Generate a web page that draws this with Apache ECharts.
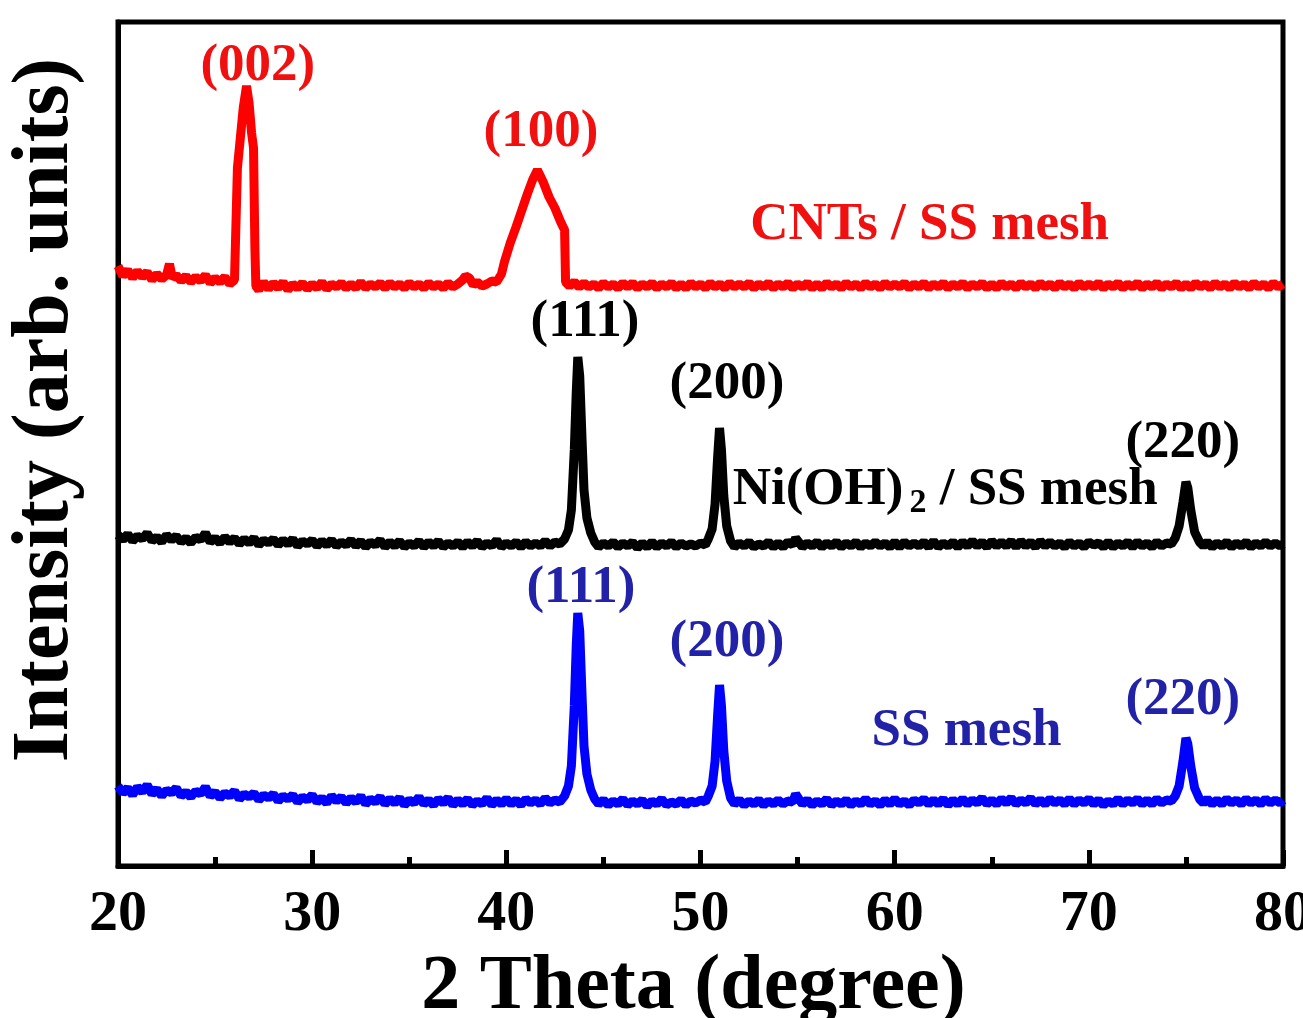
<!DOCTYPE html>
<html><head><meta charset="utf-8">
<script src="https://cdn.jsdelivr.net/npm/echarts@6/dist/echarts.min.js"></script>
<style>html,body{margin:0;padding:0;background:#fff}#c{width:1303px;height:1018px}</style>
</head><body><div id="c"></div>
<script>
// 2θ (degree), raw intensity (a.u.) pairs
const ssMesh = [[20.00,80],[20.25,73],[20.50,78],[20.75,71],[21.00,79],[21.25,74],[21.50,81],[21.75,72],[22.00,77],[22.25,70],[22.50,76],[22.75,73],[23.00,78],[23.25,70],[23.50,74],[23.75,69],[24.00,75],[24.25,72],[24.50,79],[24.75,70],[25.00,74],[25.25,68],[25.50,73],[25.75,70],[26.00,75],[26.25,67],[26.50,72],[26.75,69],[27.00,73],[27.25,66],[27.50,71],[27.75,68],[28.00,72],[28.25,65],[28.50,70],[28.75,67],[29.00,71],[29.25,64],[29.50,69],[29.75,66],[30.00,71],[30.25,64],[30.50,68],[30.75,63],[31.00,70],[31.25,65],[31.50,69],[31.75,63],[32.00,68],[32.25,64],[32.50,70],[32.75,62],[33.00,67],[33.25,64],[33.50,69],[33.75,62],[34.00,67],[34.25,63],[34.50,68],[34.75,61],[35.00,66],[35.25,63],[35.50,69],[35.75,62],[36.00,66],[36.25,61],[36.50,67],[36.75,63],[37.00,68],[37.25,61],[37.50,66],[37.75,62],[38.00,67],[38.25,61],[38.50,65],[38.75,62],[39.00,68],[39.25,61],[39.50,66],[39.75,62],[40.00,67],[40.25,62],[40.50,66],[40.75,61],[41.00,67],[41.25,63],[41.50,66],[41.75,62],[42.00,68],[42.25,63],[42.50,66],[42.75,64],[43.00,70],[43.2,80],[43.35,100],[43.5,160],[43.6,220],[43.68,253],[43.78,235],[43.9,170],[44.0,120],[44.15,92],[44.35,76],[44.55,67],[44.75,62],[45.00,66],[45.25,61],[45.50,65],[45.75,62],[46.00,67],[46.25,61],[46.50,65],[46.75,62],[47.00,66],[47.25,60],[47.50,65],[47.75,62],[48.00,67],[48.25,61],[48.50,64],[48.75,62],[49.00,66],[49.25,61],[49.50,65],[49.75,63],[50.00,66],[50.25,64],[50.4,70],[50.6,80],[50.75,105],[50.88,150],[50.98,181],[51.08,160],[51.2,115],[51.35,85],[51.55,68],[51.75,62],[52.00,66],[52.25,61],[52.50,65],[52.75,62],[53.00,66],[53.25,61],[53.50,65],[53.75,62],[54.00,66],[54.25,62],[54.50,65],[54.75,64],[54.90,72],[55.10,66],[55.25,62],[55.50,66],[55.75,61],[56.00,65],[56.25,62],[56.50,67],[56.75,61],[57.00,65],[57.25,62],[57.50,66],[57.75,61],[58.00,65],[58.25,62],[58.50,67],[58.75,62],[59.00,65],[59.25,61],[59.50,66],[59.75,62],[60.00,67],[60.25,62],[60.50,65],[60.75,61],[61.00,66],[61.25,63],[61.50,67],[61.75,62],[62.00,66],[62.25,62],[62.50,67],[62.75,61],[63.00,66],[63.25,62],[63.50,67],[63.75,62],[64.00,66],[64.25,63],[64.50,68],[64.75,62],[65.00,66],[65.25,62],[65.50,67],[65.75,63],[66.00,68],[66.25,62],[66.50,66],[66.75,63],[67.00,68],[67.25,62],[67.50,66],[67.75,62],[68.00,67],[68.25,63],[68.50,66],[68.75,62],[69.00,67],[69.25,62],[69.50,66],[69.75,63],[70.00,67],[70.25,62],[70.50,66],[70.75,61],[71.00,65],[71.25,62],[71.50,67],[71.75,62],[72.00,66],[72.25,63],[72.50,67],[72.75,62],[73.00,66],[73.25,62],[73.50,67],[73.75,63],[74.00,66],[74.25,65],[74.45,70],[74.65,80],[74.85,105],[75.0,128],[75.1,122],[75.25,100],[75.45,78],[75.7,67],[75.90,63],[76.10,67],[76.35,62],[76.60,66],[76.85,62],[77.10,67],[77.35,63],[77.60,66],[77.85,62],[78.10,67],[78.35,63],[78.60,66],[78.85,62],[79.10,67],[79.35,63],[79.60,66],[79.85,63],[80.00,66]];
const niOH2 = [[20.00,73],[20.25,68],[20.50,74],[20.75,67],[21.00,72],[21.25,69],[21.50,75],[21.75,67],[22.00,71],[22.25,66],[22.50,73],[22.75,68],[23.00,72],[23.25,66],[23.50,70],[23.75,65],[24.00,71],[24.25,68],[24.50,75],[24.75,66],[25.00,70],[25.25,65],[25.50,71],[25.75,66],[26.00,70],[26.25,64],[26.50,69],[26.75,65],[27.00,70],[27.25,63],[27.50,68],[27.75,65],[28.00,69],[28.25,63],[28.50,68],[28.75,64],[29.00,69],[29.25,62],[29.50,67],[29.75,64],[30.00,68],[30.25,62],[30.50,67],[30.75,63],[31.00,68],[31.25,62],[31.50,66],[31.75,63],[32.00,68],[32.25,62],[32.50,67],[32.75,61],[33.00,66],[33.25,63],[33.50,68],[33.75,61],[34.00,66],[34.25,62],[34.50,67],[34.75,61],[35.00,65],[35.25,62],[35.50,67],[35.75,61],[36.00,66],[36.25,62],[36.50,67],[36.75,61],[37.00,65],[37.25,62],[37.50,66],[37.75,61],[38.00,66],[38.25,62],[38.50,67],[38.75,61],[39.00,65],[39.25,62],[39.50,68],[39.75,61],[40.00,65],[40.25,62],[40.50,66],[40.75,61],[41.00,66],[41.25,62],[41.50,65],[41.75,62],[42.00,67],[42.25,62],[42.50,66],[42.75,64],[43.00,69],[43.2,78],[43.35,98],[43.5,158],[43.6,215],[43.68,251],[43.78,232],[43.9,168],[44.0,118],[44.15,90],[44.35,75],[44.55,66],[44.75,61],[45.00,65],[45.25,62],[45.50,66],[45.75,61],[46.00,65],[46.25,62],[46.50,66],[46.75,60],[47.00,65],[47.25,61],[47.50,66],[47.75,61],[48.00,65],[48.25,62],[48.50,66],[48.75,61],[49.00,65],[49.25,62],[49.50,64],[49.75,62],[50.00,65],[50.25,63],[50.4,69],[50.6,79],[50.75,104],[50.88,150],[50.98,180],[51.08,158],[51.2,112],[51.35,82],[51.55,67],[51.75,61],[52.00,65],[52.25,62],[52.50,66],[52.75,61],[53.00,64],[53.25,62],[53.50,66],[53.75,61],[54.00,65],[54.25,61],[54.50,66],[54.75,63],[54.90,70],[55.10,65],[55.25,61],[55.50,65],[55.75,62],[56.00,66],[56.25,61],[56.50,65],[56.75,62],[57.00,66],[57.25,61],[57.50,65],[57.75,62],[58.00,66],[58.25,61],[58.50,65],[58.75,62],[59.00,66],[59.25,62],[59.50,65],[59.75,61],[60.00,66],[60.25,61],[60.50,66],[60.75,62],[61.00,65],[61.25,62],[61.50,66],[61.75,61],[62.00,67],[62.25,61],[62.50,65],[62.75,62],[63.00,66],[63.25,61],[63.50,66],[63.75,62],[64.00,67],[64.25,62],[64.50,66],[64.75,61],[65.00,67],[65.25,62],[65.50,66],[65.75,62],[66.00,67],[66.25,61],[66.50,67],[66.75,62],[67.00,66],[67.25,61],[67.50,67],[67.75,62],[68.00,66],[68.25,62],[68.50,65],[68.75,61],[69.00,66],[69.25,62],[69.50,65],[69.75,61],[70.00,66],[70.25,63],[70.50,65],[70.75,61],[71.00,66],[71.25,61],[71.50,65],[71.75,62],[72.00,66],[72.25,61],[72.50,66],[72.75,62],[73.00,65],[73.25,61],[73.50,66],[73.75,62],[74.00,65],[74.25,64],[74.45,70],[74.65,82],[74.85,106],[75.0,126],[75.1,120],[75.25,98],[75.45,76],[75.7,66],[75.90,62],[76.10,66],[76.35,61],[76.60,65],[76.85,62],[77.10,66],[77.35,61],[77.60,65],[77.85,62],[78.10,66],[78.35,61],[78.60,65],[78.85,62],[79.10,66],[79.35,62],[79.60,65],[79.85,62],[80.00,64]];
const cnts = [[20.00,82],[20.25,72],[20.50,78],[20.75,70],[21.00,77],[21.25,71],[21.50,76],[21.75,68],[22.00,74],[22.25,69],[22.50,73],[22.65,84],[22.80,70],[23.00,73],[23.25,67],[23.50,72],[23.75,66],[24.00,71],[24.25,67],[24.50,73],[24.75,65],[25.00,70],[25.25,66],[25.50,71],[25.75,64],[26.00,68],[26.1,70],[26.15,180],[26.3,210],[26.45,240],[26.62,262],[26.75,245],[26.88,215],[26.98,200],[27.05,100],[27.1,62],[27.25,58],[27.50,66],[27.75,59],[28.00,65],[28.25,60],[28.50,66],[28.75,58],[29.00,64],[29.25,60],[29.50,65],[29.75,59],[30.00,64],[30.25,60],[30.50,66],[30.75,59],[31.00,64],[31.25,61],[31.50,65],[31.75,60],[32.00,64],[32.25,60],[32.50,66],[32.75,60],[33.00,64],[33.25,61],[33.50,65],[33.75,60],[34.00,65],[34.25,61],[34.50,64],[34.75,60],[35.00,65],[35.25,61],[35.50,64],[35.75,60],[36.00,65],[36.25,61],[36.50,64],[36.75,60],[37.00,65],[37.25,61],[37.50,64],[37.75,68],[37.90,72],[38.10,70],[38.30,63],[38.50,66],[38.75,62],[39.00,64],[39.25,67],[39.50,66],[39.75,74],[39.9,86],[40.2,105],[40.5,121],[40.8,138],[41.1,155],[41.35,168],[41.6,178],[41.9,166],[42.2,151],[42.5,140],[42.8,126],[43.0,118],[43.05,66],[43.25,62],[43.50,66],[43.75,61],[44.00,65],[44.25,61],[44.50,64],[44.75,60],[45.00,65],[45.25,61],[45.50,64],[45.75,60],[46.00,65],[46.25,61],[46.50,65],[46.75,60],[47.00,64],[47.25,61],[47.50,65],[47.75,60],[48.00,64],[48.25,61],[48.50,65],[48.75,60],[49.00,64],[49.25,60],[49.50,65],[49.75,61],[50.00,64],[50.25,60],[50.50,65],[50.75,61],[51.00,64],[51.25,60],[51.50,65],[51.75,61],[52.00,64],[52.25,61],[52.50,65],[52.75,60],[53.00,64],[53.25,61],[53.50,65],[53.75,60],[54.00,64],[54.25,61],[54.50,65],[54.75,60],[55.00,64],[55.25,61],[55.50,65],[55.75,60],[56.00,64],[56.25,60],[56.50,65],[56.75,61],[57.00,64],[57.25,60],[57.50,65],[57.75,61],[58.00,64],[58.25,60],[58.50,65],[58.75,61],[59.00,64],[59.25,60],[59.50,65],[59.75,61],[60.00,64],[60.25,61],[60.50,65],[60.75,60],[61.00,64],[61.25,61],[61.50,65],[61.75,60],[62.00,64],[62.25,61],[62.50,65],[62.75,60],[63.00,64],[63.25,61],[63.50,65],[63.75,60],[64.00,64],[64.25,61],[64.50,65],[64.75,60],[65.00,64],[65.25,60],[65.50,65],[65.75,61],[66.00,64],[66.25,60],[66.50,65],[66.75,61],[67.00,64],[67.25,60],[67.50,65],[67.75,61],[68.00,64],[68.25,60],[68.50,65],[68.75,61],[69.00,64],[69.25,60],[69.50,65],[69.75,61],[70.00,64],[70.25,61],[70.50,65],[70.75,60],[71.00,64],[71.25,61],[71.50,65],[71.75,60],[72.00,64],[72.25,61],[72.50,65],[72.75,60],[73.00,64],[73.25,61],[73.50,65],[73.75,60],[74.00,64],[74.25,61],[74.50,65],[74.75,60],[75.00,64],[75.25,60],[75.50,65],[75.75,61],[76.00,64],[76.25,60],[76.50,65],[76.75,61],[77.00,64],[77.25,60],[77.50,65],[77.75,61],[78.00,64],[78.25,60],[78.50,65],[78.75,61],[79.00,64],[79.25,60],[79.50,65],[79.75,61],[80.00,64]];
// vertical stacking offsets (a.u.)
const offsets = {ss: 0, ni: 258, cnt: 518};
const seriesNames = ['SS mesh', 'Ni(OH)2 / SS mesh', 'CNTs / SS mesh'];
const xTicks = [20, 30, 40, 50, 60, 70, 80];
// peak labels: [text, 2θ, displayed intensity]
const cntLabels = [['(002)', 27.2, 800], ['(100)', 41.78, 734]];
const niLabels = [['(111)', 44.05, 544], ['(200)', 51.36, 482], ['(220)', 74.84, 423]];
const ssLabels = [['(111)', 43.84, 278], ['(200)', 51.36, 224], ['(220)', 74.84, 166]];
const nameLabels = [['{a|CNTs / SS mesh}', 61.8, 641], ['{a|Ni(OH)}{s|2}{a| / SS mesh}', 62.6, 376], ['{a|SS mesh}', 63.7, 135]];

const FONT = 'Liberation Serif';
const shift = (arr, off) => arr.map(p => [p[0], p[1] + off]);
function mp(labels, color) {
  return {
    symbol: 'circle', symbolSize: 0, silent: true,
    label: {show: true, position: 'inside', color: color, fontFamily: FONT, fontWeight: 'bold', fontSize: 53,
      rich: {a: {fontFamily: FONT, fontWeight: 'bold', fontSize: 53, color: color, lineHeight: 60},
             s: {fontFamily: FONT, fontWeight: 'bold', fontSize: 34, color: color, verticalAlign: 'bottom', lineHeight: 34, padding: [0, 0, 0, 6]}}},
    data: labels.map(l => ({coord: [l[1], l[2]], value: l[0], label: {formatter: l[0]}}))
  };
}
const chart = echarts.init(document.getElementById('c'));
chart.setOption({
  animation: false,
  backgroundColor: '#fff',
  grid: {left: 118, top: 22, width: 1165, height: 844, containLabel: false, outerBoundsMode: 'none',
    show: true, borderColor: '#000', borderWidth: 5, backgroundColor: 'transparent'},
  xAxis: {
    type: 'value', min: 20, max: 80, interval: 10,
    name: '2 Theta (degree)', nameLocation: 'middle', nameGap: 62,
    nameTextStyle: {fontFamily: FONT, fontWeight: 'bold', fontSize: 78, color: '#000', padding: [0, 14, 0, 0]},
    axisLine: {show: true, lineStyle: {color: '#000', width: 5}},
    axisTick: {show: true, inside: true, length: 16, lineStyle: {color: '#000', width: 5}},
    minorTick: {show: true, splitNumber: 2, length: 9, lineStyle: {color: '#000', width: 5}},
    splitLine: {show: false},
    axisLabel: {margin: 20, fontFamily: FONT, fontWeight: 'bold', fontSize: 58, color: '#000',
      formatter: v => xTicks.includes(v) ? String(v) : ''}
  },
  yAxis: {
    type: 'value', min: 0, max: 844,
    axisLine: {show: true, lineStyle: {color: '#000', width: 5}},
    axisTick: {show: false}, axisLabel: {show: false}, splitLine: {show: false}
  },
  graphic: [{
    type: 'text', x: 46, y: 410, rotation: Math.PI / 2,
    style: {text: 'Intensity (arb. units)', fontFamily: FONT, fontWeight: 'bold', fontSize: 80, fill: '#000',
      align: 'center', verticalAlign: 'middle'}
  }],
  series: [
    {name: seriesNames[0], type: 'line', showSymbol: false, data: shift(ssMesh, offsets.ss),
     lineStyle: {color: '#0000ff', width: 9}, itemStyle: {color: '#0000ff'}, markPoint: mp(ssLabels.concat([nameLabels[2]]), '#2222a8')},
    {name: seriesNames[1], type: 'line', showSymbol: false, data: shift(niOH2, offsets.ni),
     lineStyle: {color: '#000', width: 9}, itemStyle: {color: '#000'}, markPoint: mp(niLabels.concat([nameLabels[1]]), '#000')},
    {name: seriesNames[2], type: 'line', showSymbol: false, data: shift(cnts, offsets.cnt),
     lineStyle: {color: '#ff0000', width: 9}, itemStyle: {color: '#ff0000'}, markPoint: mp(cntLabels.concat([nameLabels[0]]), '#f01010')}
  ]
});
</script></body></html>
